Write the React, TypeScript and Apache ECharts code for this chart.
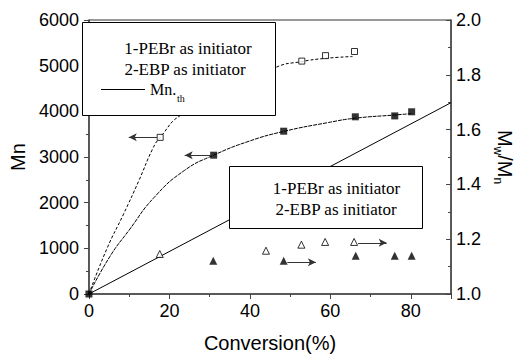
import React, { useEffect, useRef } from "react";
import * as echarts from "echarts";

// PEBr as initiator: Mn (open squares)
const pebrConv = [17.7, 52.9, 58.8, 66.0];
const pebrMn = [3430, 5100, 5220, 5310];
// EBP as initiator: Mn (filled squares)
const ebpConv = [0, 31.0, 48.4, 66.2, 76.0, 80.2];
const ebpMn = [0, 3040, 3565, 3880, 3900, 3990];
// PDI (Mw/Mn)
const pebrPdiConv = [17.6, 44.0, 52.8, 58.7, 65.9];
const pebrPdi = [1.146, 1.158, 1.18, 1.19, 1.19];
const ebpPdiConv = [30.9, 48.4, 66.3, 76.0, 80.2];
const ebpPdi = [1.121, 1.121, 1.14, 1.14, 1.14];
// fitted curves
const fit1Conv = [0, 4.5, 8.6, 12.4, 15.9, 17.7, 23.1, 46.4, 52.9, 58.8, 65.5];
const fit1Mn = [0, 1000, 1750, 2480, 3190, 3430, 3930, 4960, 5090, 5160, 5200];
const fit2Conv = [0, 5.2, 10, 16.2, 23.8, 31, 39.8, 48.4, 59.5, 66.2, 76, 80.2];
const fit2Mn = [0, 820, 1400, 2115, 2710, 3040, 3346, 3560, 3755, 3850, 3920, 3950];
// theoretical Mn
const thConv = [0, 90];
const thMn = [0, 4190];
// arrows: [fromX, toX, y]
const arrowsMn = [
  [16.9, 9.9, 3430],
  [30.3, 23.8, 3040],
];
const arrowsPdi = [
  [49.3, 56.4, 1.116],
  [66.9, 74.0, 1.187],
];
const legendLines = ["1-PEBr as initiator", "2-EBP as initiator"];

const zip = (xs: number[], ys: number[]) => xs.map((x, i) => [x, ys[i]]);
const SANS = "'Liberation Sans', Arial, sans-serif";
const SERIF = "Liberation Serif";
const AX = "#444";

export default function App() {
  const ref = useRef<HTMLDivElement>(null);
  useEffect(() => {
    document.body.style.margin = "0";
    const chart = echarts.init(ref.current!, null, { renderer: "svg" });
    const arrowLine = (arr: number[][]) => ({
      silent: true,
      symbol: ["none", "arrow"],
      symbolSize: [6, 8],
      label: { show: false },
      lineStyle: { color: "#333", type: "solid", width: 1 },
      data: arr.map((a) => [{ coord: [a[0], a[2]] }, { coord: [a[1], a[2]] }]),
    });
    const serifText = (text: string, x: number, y: number, size: number, align: string) => ({
      type: "text",
      z: 101,
      x,
      y,
      style: { text, fontSize: size, fontFamily: SERIF, fill: "#000", align, verticalAlign: "middle" },
    });
    chart.setOption({
      animation: false,
      grid: { left: 80, right: 65, top: 20, bottom: 60, show: true, borderColor: "#333", borderWidth: 1 },
      xAxis: {
        type: "value",
        min: 0,
        max: 90,
        interval: 20,
        name: "Conversion(%)",
        nameLocation: "middle",
        nameGap: 39,
        nameTextStyle: { fontSize: 20, fontFamily: SANS, color: "#000" },
        axisLine: { lineStyle: { color: AX, width: 1.5 } },
        axisTick: { show: true, length: 5, lineStyle: { color: AX } },
        minorTick: { show: true, splitNumber: 2, length: 3, lineStyle: { color: AX } },
        splitLine: { show: false },
        axisLabel: {
          fontSize: 18,
          fontFamily: SANS,
          color: "#000",
          margin: 8,
          formatter: (v: number) => (v % 20 === 0 ? String(v) : ""),
        },
      },
      yAxis: [
        {
          type: "value",
          min: 0,
          max: 6000,
          interval: 1000,
          name: "Mn",
          nameLocation: "middle",
          nameRotate: 90,
          nameGap: 50,
          nameTextStyle: { fontSize: 20, fontFamily: SANS, color: "#000" },
          axisLine: { show: true, lineStyle: { color: AX, width: 1.5 } },
          axisTick: { show: true, length: 5, lineStyle: { color: AX } },
          minorTick: { show: true, splitNumber: 2, length: 3, lineStyle: { color: AX } },
          splitLine: { show: false },
          axisLabel: { fontSize: 18, fontFamily: SANS, color: "#000", margin: 10, formatter: (v: number) => String(v) },
        },
        {
          type: "value",
          position: "right",
          min: 1,
          max: 2,
          interval: 0.2,
          name: "{a|M}{b|w}{a|/M}{b|n}",
          nameLocation: "middle",
          nameRotate: -90,
          nameGap: 37,
          nameTextStyle: {
            color: "#000",
            rich: {
              a: { fontSize: 20, fontFamily: SANS, color: "#000", lineHeight: 26, verticalAlign: "middle" },
              b: { fontSize: 12, fontFamily: SANS, color: "#000", lineHeight: 26, verticalAlign: "bottom" },
            },
          },
          axisLine: { show: true, lineStyle: { color: AX, width: 1.5 } },
          axisTick: { show: true, inside: true, length: 5, lineStyle: { color: AX } },
          minorTick: { show: true, splitNumber: 2, length: 3, lineStyle: { color: AX } },
          splitLine: { show: false },
          axisLabel: {
            fontSize: 18,
            fontFamily: SANS,
            color: "#000",
            margin: 5,
            formatter: (v: number) => v.toFixed(1),
          },
        },
      ],
      series: [
        {
          type: "line",
          data: zip(thConv, thMn),
          showSymbol: false,
          lineStyle: { color: "#000", width: 1 },
          z: 2,
        },
        {
          type: "line",
          data: zip(fit1Conv, fit1Mn),
          showSymbol: false,
          smooth: 0.5,
          lineStyle: { color: "#000", width: 1, type: [3, 2] },
          z: 2,
        },
        {
          type: "line",
          data: zip(fit2Conv, fit2Mn),
          showSymbol: false,
          smooth: 0.5,
          lineStyle: { color: "#000", width: 1, type: [4, 1] },
          z: 2,
        },
        {
          type: "scatter",
          data: zip(pebrConv, pebrMn),
          symbol: "rect",
          symbolSize: 6,
          itemStyle: { color: "#fff", borderColor: "#000", borderWidth: 1 },
          markLine: arrowLine(arrowsMn),
          z: 3,
        },
        {
          type: "scatter",
          data: zip(ebpConv, ebpMn),
          symbol: "rect",
          symbolSize: 7,
          itemStyle: { color: "#000" },
          z: 3,
        },
        {
          type: "scatter",
          yAxisIndex: 1,
          data: zip(pebrPdiConv, pebrPdi),
          symbol: "triangle",
          symbolSize: 7,
          itemStyle: { color: "#fff", borderColor: "#000", borderWidth: 1 },
          markLine: arrowLine(arrowsPdi),
          z: 3,
        },
        {
          type: "scatter",
          yAxisIndex: 1,
          data: zip(ebpPdiConv, ebpPdi),
          symbol: "triangle",
          symbolSize: 8,
          itemStyle: { color: "#000" },
          z: 3,
        },
      ],
      graphic: [
        {
          type: "rect",
          z: 100,
          shape: { x: 82.5, y: 22.5, width: 193, height: 93 },
          style: { fill: "#fff", stroke: "#000", lineWidth: 1 },
        },
        serifText(legendLines[0], 188, 48, 17, "center"),
        serifText(legendLines[1], 185, 69, 17, "center"),
        {
          type: "line",
          z: 101,
          shape: { x1: 101, y1: 89.5, x2: 145, y2: 89.5 },
          style: { stroke: "#000", lineWidth: 1 },
        },
        serifText("Mn.", 150, 89, 16, "left"),
        serifText("th", 177, 98, 10, "left"),
        {
          type: "rect",
          z: 100,
          shape: { x: 229.5, y: 166.5, width: 193, height: 62 },
          style: { fill: "#fff", stroke: "#000", lineWidth: 1 },
        },
        serifText(legendLines[0], 336.5, 188, 17, "center"),
        serifText(legendLines[1], 336, 209, 17, "center"),
      ],
    });
    return () => chart.dispose();
  }, []);
  return <div ref={ref} style={{ width: 523, height: 358, position: "absolute", left: 0, top: 0 }} />;
}
